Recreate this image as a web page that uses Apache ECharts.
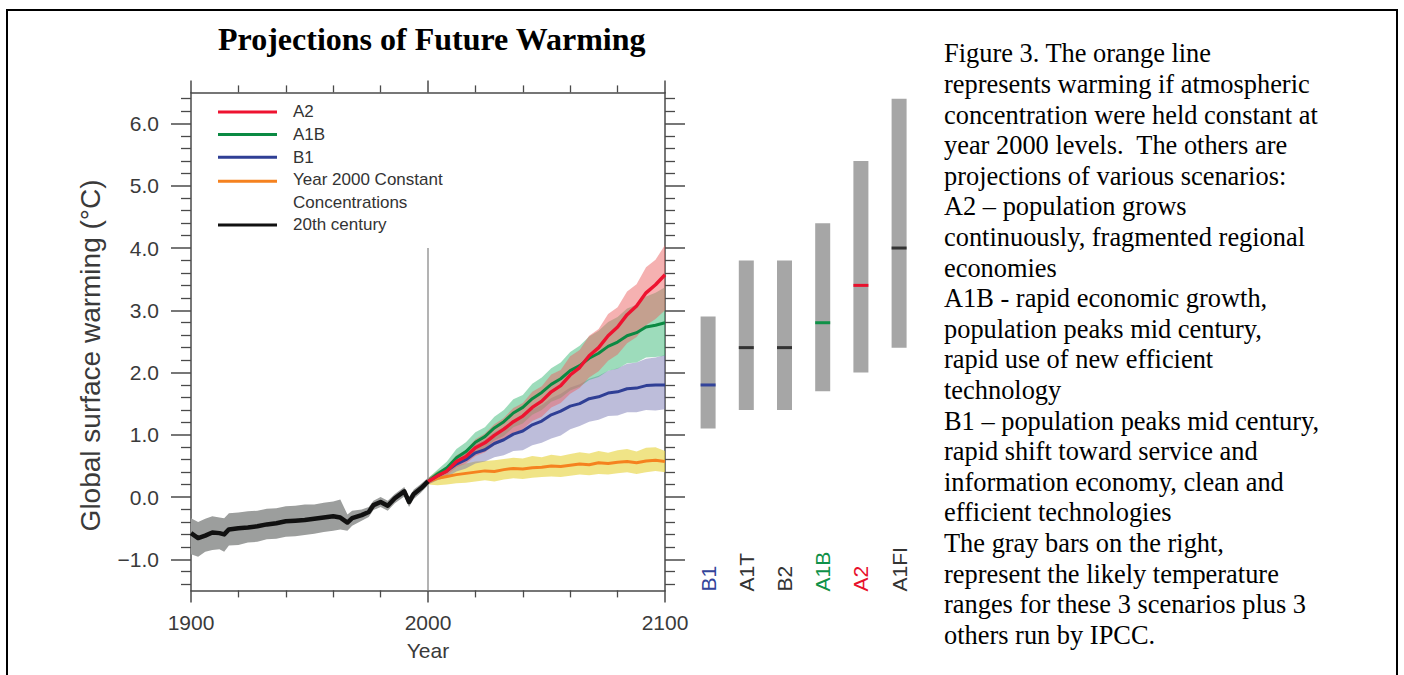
<!DOCTYPE html>
<html>
<head>
<meta charset="utf-8">
<script src="https://cdn.jsdelivr.net/npm/echarts@6.0.0/dist/echarts.min.js"></script>
<style>
html,body{margin:0;padding:0;background:#ffffff;}
#chart{width:1404px;height:675px;}
</style>
</head>
<body>
<div id="chart"></div>
<script>
// ---------------- data ----------------
const c20Years = [1900,1903,1906,1909,1912,1914,1916,1920,1924,1928,1932,1936,1940,1944,1948,1952,1956,1960,1963,1966,1968,1972,1975,1977,1980,1983,1986,1990,1992,1994,1997,2000];
const c20Mean  = [-0.58,-0.66,-0.62,-0.57,-0.58,-0.60,-0.52,-0.50,-0.49,-0.47,-0.44,-0.42,-0.39,-0.38,-0.37,-0.35,-0.33,-0.31,-0.33,-0.41,-0.34,-0.29,-0.24,-0.13,-0.08,-0.14,-0.02,0.09,-0.08,0.05,0.14,0.25];
const c20Lower = [-0.92,-0.96,-0.88,-0.85,-0.84,-0.88,-0.78,-0.77,-0.73,-0.72,-0.68,-0.67,-0.64,-0.63,-0.61,-0.59,-0.56,-0.54,-0.52,-0.54,-0.46,-0.38,-0.32,-0.21,-0.16,-0.22,-0.10,0.01,-0.16,-0.03,0.07,0.19];
const c20Upper = [-0.34,-0.40,-0.35,-0.31,-0.33,-0.34,-0.26,-0.25,-0.23,-0.22,-0.19,-0.18,-0.15,-0.14,-0.12,-0.12,-0.09,-0.07,-0.04,-0.28,-0.22,-0.20,-0.16,-0.06,0.00,-0.06,0.05,0.16,0.00,0.12,0.21,0.31];

const projYears = [2000,2004,2008,2012,2016,2020,2024,2028,2032,2036,2040,2044,2048,2052,2056,2060,2064,2068,2072,2076,2080,2084,2088,2092,2096,2100];

const a2Mean  = [0.25,0.34,0.42,0.57,0.65,0.79,0.87,0.99,1.09,1.21,1.30,1.44,1.54,1.69,1.79,1.96,2.08,2.27,2.40,2.59,2.73,2.93,3.07,3.28,3.41,3.57];
const a2Lower = [0.20,0.28,0.35,0.48,0.54,0.66,0.72,0.83,0.91,1.02,1.09,1.22,1.29,1.44,1.51,1.66,1.75,1.92,2.02,2.19,2.29,2.47,2.57,2.76,2.86,3.00];
const a2Upper = [0.30,0.40,0.49,0.67,0.75,0.93,1.02,1.17,1.27,1.43,1.51,1.69,1.78,1.97,2.04,2.26,2.36,2.59,2.70,2.94,3.05,3.30,3.42,3.69,3.81,4.05];

const a1bMean  = [0.25,0.37,0.47,0.63,0.73,0.88,0.97,1.11,1.21,1.35,1.44,1.58,1.68,1.81,1.90,2.03,2.11,2.23,2.31,2.42,2.49,2.59,2.64,2.73,2.76,2.80];
const a1bLower = [0.20,0.30,0.38,0.52,0.59,0.72,0.78,0.91,0.98,1.12,1.18,1.32,1.40,1.53,1.59,1.71,1.77,1.88,1.93,2.03,2.06,2.15,2.16,2.24,2.25,2.27];
const a1bUpper = [0.30,0.44,0.57,0.77,0.88,1.04,1.12,1.29,1.40,1.57,1.64,1.82,1.92,2.07,2.16,2.33,2.43,2.58,2.67,2.81,2.89,3.03,3.09,3.22,3.28,3.37];

const b1Mean  = [0.25,0.34,0.42,0.53,0.60,0.71,0.76,0.86,0.92,1.01,1.06,1.16,1.22,1.32,1.38,1.46,1.50,1.58,1.61,1.67,1.69,1.74,1.75,1.79,1.80,1.80];
const b1Lower = [0.20,0.27,0.32,0.41,0.46,0.54,0.57,0.64,0.67,0.74,0.75,0.83,0.87,0.94,0.99,1.09,1.14,1.21,1.24,1.30,1.31,1.36,1.36,1.40,1.39,1.41];
const b1Upper = [0.30,0.40,0.50,0.63,0.72,0.85,0.92,1.04,1.12,1.23,1.29,1.41,1.48,1.59,1.66,1.76,1.81,1.90,1.95,2.03,2.07,2.14,2.16,2.22,2.24,2.28];

const constMean  = [0.25,0.30,0.33,0.36,0.38,0.40,0.42,0.41,0.44,0.46,0.45,0.47,0.48,0.50,0.49,0.51,0.53,0.52,0.55,0.54,0.56,0.57,0.55,0.58,0.59,0.57];
const constLower = [0.20,0.19,0.20,0.22,0.23,0.25,0.27,0.25,0.28,0.30,0.29,0.31,0.32,0.33,0.32,0.34,0.36,0.35,0.37,0.36,0.38,0.40,0.37,0.40,0.42,0.40];
const constUpper = [0.30,0.42,0.47,0.51,0.54,0.57,0.58,0.59,0.61,0.63,0.62,0.66,0.64,0.68,0.66,0.69,0.72,0.70,0.74,0.71,0.75,0.77,0.73,0.79,0.80,0.74];

const scenarios    = ['B1','A1T','B2','A1B','A2','A1FI'];
const scenarioLow  = [1.1,1.4,1.4,1.7,2.0,2.4];
const scenarioHigh = [2.9,3.8,3.8,4.4,5.4,6.4];
const scenarioBest = [1.8,2.4,2.4,2.8,3.4,4.0];

const xTickLabels = ['1900','2000','2100'];
const yMajorTicks = [-1,0,1,2,3,4,5,6];
const yTickLabels = ['\u22121.0','0.0','1.0','2.0','3.0','4.0','5.0','6.0'];

const captionLines = [
  'Figure 3. The orange line',
  'represents warming if atmospheric',
  'concentration were held constant at',
  'year 2000 levels.  The others are',
  'projections of various scenarios:',
  'A2 \u2013 population grows',
  'continuously, fragmented regional',
  'economies',
  'A1B - rapid economic growth,',
  'population peaks mid century,',
  'rapid use of new efficient',
  'technology',
  'B1 \u2013 population peaks mid century,',
  'rapid shift toward service and',
  'information economy, clean and',
  'efficient technologies',
  'The gray bars on the right,',
  'represent the likely temperature',
  'ranges for these 3 scenarios plus 3',
  'others run by IPCC.'
];

// ---------------- styles ----------------
const scenarioColors = {B1:'#33449a', A1T:'#333333', B2:'#333333', A1B:'#0f9148', A2:'#e8112d', A1FI:'#333333'};
const AX = '#4a4a4a';
const TXT = '#3a3a3a';
const SANS = 'Liberation Sans';
const Y_MIN = -1.5, Y_MAX = 6.5;
const constName = 'Year 2000 Constant Concentrations';

const yMinorTicks = [];
for (let k = -7; k <= 32; k++) { const v = Math.round(k * 0.2 * 10) / 10; if (Math.abs(v - Math.round(v)) > 1e-6) yMinorTicks.push(v); }

function pairs(xs, ys) { return xs.map((x, i) => [x, ys[i]]); }

function bandSeries(name, xs, lo, hi, color, z) {
  const pts = xs.map((x, i) => [x, lo[i], hi[i]]);
  return {
    type: 'custom', name: name, coordinateSystem: 'cartesian2d', xAxisIndex: 0, yAxisIndex: 0,
    silent: true, z: z, data: pts, encode: {x: 0, y: [1, 2]},
    renderItem: function (params, api) {
      if (params.dataIndex !== 0) return null;
      const up = pts.map(p => api.coord([p[0], p[2]]));
      const dn = pts.map(p => api.coord([p[0], p[1]])).reverse();
      return {type: 'polygon', shape: {points: up.concat(dn)}, style: {fill: color}};
    }
  };
}

function lineSeries(name, xs, ys, color, width, z) {
  return {
    type: 'line', name: name, xAxisIndex: 0, yAxisIndex: 0, data: pairs(xs, ys),
    showSymbol: false, symbol: 'none', silent: true, z: z,
    lineStyle: {color: color, width: width, join: 'round'}, itemStyle: {color: color}
  };
}

const iconMid = 'path://M0,0L0.01,0M0,9.8L59,9.8L59,12.8L0,12.8ZM59,22.6L58.99,22.6';
const iconTop = 'path://M0,0L59,0L59,3L0,3ZM59,22.6L58.99,22.6';
const legendNames = ['A2','A1B','B1',constName,'20th century'];

const tickLine = {color: AX, width: 1.5};

const option = {
  animation: false,
  title: {
    text: 'Projections of Future Warming', left: 218, top: 23, padding: 0,
    textStyle: {fontFamily: 'Liberation Serif', fontWeight: 'bold', fontSize: 32, color: '#000'}
  },
  legend: {
    orient: 'vertical', left: 218, top: 100.7, padding: 0, itemGap: 0,
    itemWidth: 59, itemHeight: 22.6, selectedMode: false,
    itemStyle: {borderWidth: 0},
    textStyle: {fontSize: 17, color: '#333', fontFamily: SANS, lineHeight: 22.6, padding: [0,0,0,11]},
    formatter: n => n === constName ? 'Year 2000 Constant\nConcentrations' : n,
    data: legendNames.map(n => ({name: n, icon: n === constName ? iconTop : iconMid}))
  },
  grid: [
    {left: 191, top: 92.4, width: 474, height: 498, outerBoundsMode: 'none', containLabel: false},
    {left: 689, top: 92.4, width: 229.2, height: 498, outerBoundsMode: 'none', containLabel: false}
  ],
  xAxis: [
    {type: 'value', gridIndex: 0, position: 'bottom', min: 1900, max: 2100, interval: 100,
     axisLine: {onZero: false, lineStyle: tickLine}, axisTick: {length: 12, lineStyle: tickLine},
     minorTick: {show: true, splitNumber: 5, length: 7, lineStyle: {color: AX, width: 1.3}},
     splitLine: {show: false}, minorSplitLine: {show: false},
     axisLabel: {margin: 22, fontSize: 21, color: TXT, fontFamily: SANS,
       formatter: v => xTickLabels[Math.round((v - 1900) / 100)]},
     name: 'Year', nameLocation: 'middle', nameGap: 50,
     nameTextStyle: {fontSize: 21, color: TXT, fontFamily: SANS}},
    {type: 'value', gridIndex: 0, position: 'top', min: 1900, max: 2100, interval: 100,
     axisLine: {onZero: false, lineStyle: tickLine}, axisTick: {length: 12, lineStyle: tickLine},
     minorTick: {show: true, splitNumber: 5, length: 7, lineStyle: {color: AX, width: 1.3}},
     splitLine: {show: false}, minorSplitLine: {show: false}, axisLabel: {show: false}},
    {type: 'category', gridIndex: 1, data: scenarios, show: false}
  ],
  yAxis: [
    {type: 'value', gridIndex: 0, position: 'left', min: Y_MIN, max: Y_MAX,
     axisLine: {show: true, onZero: false, lineStyle: tickLine},
     axisTick: {show: true, length: 20, lineStyle: tickLine, customValues: yMajorTicks},
     axisLabel: {show: true, margin: 32, fontSize: 21, color: TXT, fontFamily: SANS, customValues: yMajorTicks,
       formatter: v => yTickLabels[yMajorTicks.indexOf(Math.round(v))]},
     splitLine: {show: false},
     name: 'Global surface warming (\u00b0C)', nameLocation: 'middle', nameGap: 87,
     nameTextStyle: {fontSize: 28, color: TXT, fontFamily: SANS, padding: [0, 28, 0, 0]}},
    {type: 'value', gridIndex: 0, position: 'right', min: Y_MIN, max: Y_MAX,
     axisLine: {show: true, onZero: false, lineStyle: tickLine},
     axisTick: {show: true, length: 20, lineStyle: tickLine, customValues: yMajorTicks},
     axisLabel: {show: false}, splitLine: {show: false}},
    {type: 'value', gridIndex: 0, position: 'left', min: Y_MIN, max: Y_MAX,
     axisLine: {show: false, onZero: false},
     axisTick: {show: true, length: 10, lineStyle: {color: AX, width: 1.3}, customValues: yMinorTicks},
     axisLabel: {show: false}, splitLine: {show: false}},
    {type: 'value', gridIndex: 0, position: 'right', min: Y_MIN, max: Y_MAX,
     axisLine: {show: false, onZero: false},
     axisTick: {show: true, length: 10, lineStyle: {color: AX, width: 1.3}, customValues: yMinorTicks},
     axisLabel: {show: false}, splitLine: {show: false}},
    {type: 'value', gridIndex: 1, min: Y_MIN, max: Y_MAX, show: false}
  ],
  graphic: [
    {type: 'rect', silent: true, z: 100, shape: {x: 7, y: 10, width: 1390, height: 720},
     style: {fill: 'none', stroke: '#000', lineWidth: 2}},
    {type: 'text', silent: true, x: 944, y: 38,
     style: {text: captionLines.join('\n'), fontSize: 26.4, fontFamily: 'Liberation Serif',
             lineHeight: 30.6, fill: '#000', verticalAlign: 'top', align: 'left'}}
  ],
  series: [
    bandSeries('const band', projYears, constLower, constUpper, 'rgba(232,214,70,0.65)', 1),
    bandSeries('B1 band', projYears, b1Lower, b1Upper, 'rgba(118,118,178,0.48)', 1),
    bandSeries('A1B band', projYears, a1bLower, a1bUpper, 'rgba(60,185,120,0.5)', 1),
    bandSeries('A2 band', projYears, a2Lower, a2Upper, 'rgba(236,100,100,0.5)', 1),
    bandSeries('20th band', c20Years, c20Lower, c20Upper, '#9c9e9d', 1),
    Object.assign(lineSeries(constName, projYears, constMean, '#f5821f', 3, 3), {
      markLine: {silent: true, symbol: 'none', label: {show: false}, z: 2,
        lineStyle: {color: '#9a9a9a', width: 1.5, type: 'solid'},
        data: [[{coord: [2000, 4.0]}, {coord: [2000, Y_MIN]}]]}
    }),
    lineSeries('B1', projYears, b1Mean, '#2f3f95', 3, 3),
    lineSeries('A1B', projYears, a1bMean, '#0b8a43', 3, 3),
    lineSeries('A2', projYears, a2Mean, '#ee1330', 3.4, 3),
    lineSeries('20th century', c20Years, c20Mean, '#111111', 4.5, 4),
    {
      type: 'custom', name: 'scenario ranges', coordinateSystem: 'cartesian2d', xAxisIndex: 2, yAxisIndex: 4,
      silent: true, z: 2,
      data: scenarios.map((s, i) => [i, scenarioLow[i], scenarioHigh[i], scenarioBest[i]]),
      encode: {x: 0, y: [1, 2, 3]},
      renderItem: function (params, api) {
        const i = api.value(0);
        const name = scenarios[i];
        const cx = api.coord([i, 0])[0];
        const yTop = api.coord([i, api.value(2)])[1];
        const yBot = api.coord([i, api.value(1)])[1];
        const yMid = api.coord([i, api.value(3)])[1];
        const yBase = api.coord([i, Y_MIN])[1];
        return {
          type: 'group',
          children: [
            {type: 'rect', shape: {x: cx - 7.5, y: yTop, width: 15, height: yBot - yTop}, style: {fill: '#a6a6a6'}},
            {type: 'rect', shape: {x: cx - 7.5, y: yMid - 1.5, width: 15, height: 3}, style: {fill: scenarioColors[name]}},
            {type: 'text', x: cx, y: yBase + 1, rotation: Math.PI / 2,
             style: {text: name, fontSize: 21, fontFamily: SANS, fill: scenarioColors[name], align: 'left', verticalAlign: 'middle'}}
          ]
        };
      }
    }
  ]
};

const chart = echarts.init(document.getElementById('chart'), null, {renderer: 'svg', width: 1404, height: 675});
chart.setOption(option);
</script>
</body>
</html>
